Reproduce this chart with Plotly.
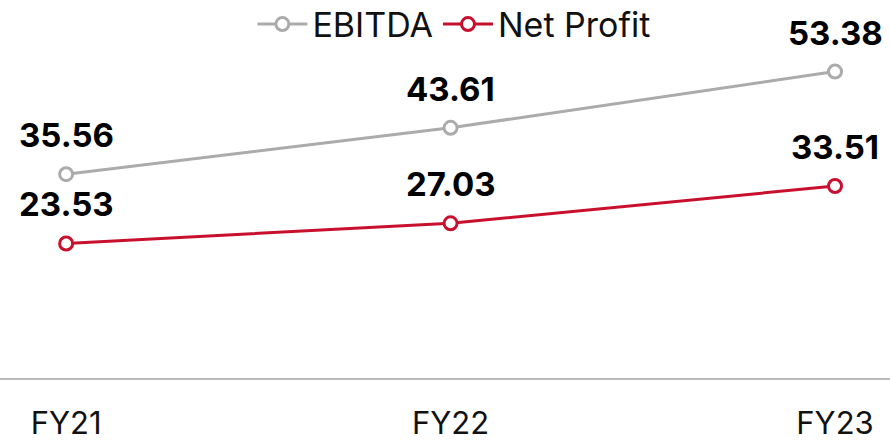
import plotly.graph_objects as go

categories = ["FY21", "FY22", "FY23"]
ebitda = [35.56, 43.61, 53.38]
net_profit = [23.53, 27.03, 33.51]

GRAY = "#ababab"
RED = "#c8102e"

fig = go.Figure()
for name, vals, col in [("EBITDA", ebitda, GRAY), ("Net Profit", net_profit, RED)]:
    fig.add_trace(go.Scatter(
        x=categories, y=vals, name=name, mode="lines+markers",
        line=dict(color=col, width=3),
        marker=dict(symbol="circle", size=13, color="white", line=dict(color=col, width=3)),
    ))
    for c, v in zip(categories, vals):
        fig.add_annotation(x=c, y=v, text=f"{v:.2f}", showarrow=False,
                           yanchor="middle", yshift=39,
                           font=dict(family="Inter", size=33, color="black", weight="bold"))

fig.update_layout(
    width=890, height=444,
    margin=dict(l=0, r=0, t=0, b=65, autoexpand=False),
    paper_bgcolor="white", plot_bgcolor="white",
    font=dict(family="Inter", color="black"),
    showlegend=True,
    legend=dict(orientation="h", x=0.51, xanchor="center", y=1.012, yanchor="top",
                font=dict(size=34, family="Inter", color="#111111"), itemwidth=50,
                bgcolor="rgba(0,0,0,0)", tracegroupgap=0),
    xaxis=dict(type="category", range=[-0.172, 2.143], showgrid=False, zeroline=False,
               showline=False, ticks="", ticklabelstandoff=23,
               tickfont=dict(size=31, family="Inter", color="#111111")),
    yaxis=dict(range=[0, 65.8], showgrid=False, zeroline=True, zerolinecolor="#bbbbbb",
               zerolinewidth=1.5, showticklabels=False, showline=False),
)
fig.write_html("out.html")
